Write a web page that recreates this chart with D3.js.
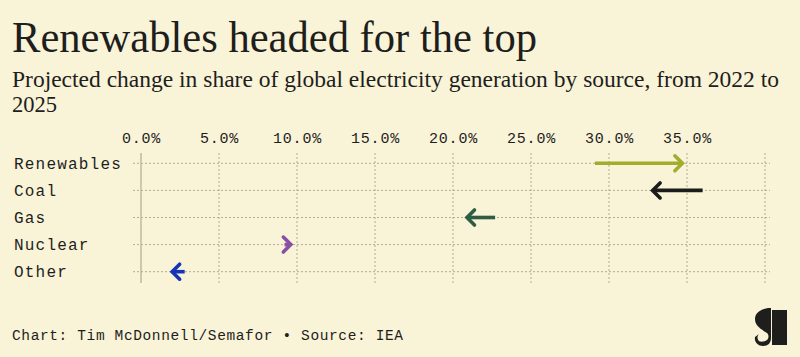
<!DOCTYPE html>
<html><head><meta charset="utf-8">
<script src="https://cdn.jsdelivr.net/npm/d3@7"></script>
<style>
html,body{margin:0;padding:0;background:#f9f3d8;}
svg{display:block;}
</style></head>
<body>
<script>
const categories = ["Renewables","Coal","Gas","Nuclear","Other"];
const share2022 = [29.1, 36.0, 22.7, 9.2, 2.8];
const share2025 = [34.8, 32.7, 20.8, 9.7, 1.9];
const colors = ["#a3ac2c","#1c1c1a","#2d5d44","#8a4ea6","#1634b5"];
const tickValues = [0,5,10,15,20,25,30,35];
const gridValues = [0,5,10,15,20,25,30,35,40];

const W = 800, H = 357;
const svg = d3.select("body").append("svg").attr("width",W).attr("height",H);
svg.append("rect").attr("width",W).attr("height",H).attr("fill","#f9f3d8");

const x = d3.scaleLinear().domain([0,40]).range([141,765]);
const y = d3.scalePoint().domain(categories).range([163.3,271.7]);

// titles
svg.append("text").attr("x",12).attr("y",52)
  .attr("font-family","Liberation Serif, serif").attr("font-size",44)
  .attr("fill","#1e1e1c").attr("textLength",525).attr("lengthAdjust","spacingAndGlyphs")
  .text("Renewables headed for the top");
svg.append("text").attr("x",12).attr("y",87)
  .attr("font-family","Liberation Serif, serif").attr("font-size",22.5)
  .attr("fill","#1e1e1c").attr("textLength",767).attr("lengthAdjust","spacingAndGlyphs")
  .text("Projected change in share of global electricity generation by source, from 2022 to");
svg.append("text").attr("x",12).attr("y",112)
  .attr("font-family","Liberation Serif, serif").attr("font-size",22.5)
  .attr("fill","#1e1e1c")
  .text("2025");

// grid
const g = svg.append("g");
g.selectAll("line.h").data(categories).join("line").attr("class","h")
  .attr("x1",133).attr("x2",770).attr("y1",d=>y(d)).attr("y2",d=>y(d))
  .attr("stroke","#b3ac95").attr("stroke-width",1).attr("stroke-dasharray","2,2");
g.selectAll("line.v").data(gridValues.filter(v=>v>0)).join("line").attr("class","v")
  .attr("x1",d=>x(d)).attr("x2",d=>x(d)).attr("y1",153).attr("y2",283)
  .attr("stroke","#b3ac95").attr("stroke-width",1).attr("stroke-dasharray","2,2");
g.append("line").attr("x1",x(0)).attr("x2",x(0)).attr("y1",153).attr("y2",283)
  .attr("stroke","#bdb8a2").attr("stroke-width",1.5);

// axis
const axis = d3.axisTop(x).tickValues(tickValues).tickSize(0).tickPadding(0)
  .tickFormat(d=>d3.format(".1%")(d/100));
const ax = svg.append("g").attr("transform","translate(0,143)").call(axis);
ax.select(".domain").remove();
ax.selectAll("text").attr("font-family","Liberation Mono, monospace").attr("font-size",15)
  .attr("letter-spacing","0.8px").attr("fill","#1e1e1c").attr("dy",0);

// row labels
svg.selectAll("text.lab").data(categories).join("text").attr("class","lab")
  .attr("x",14).attr("y",d=>y(d)+5.5)
  .attr("font-family","Liberation Mono, monospace").attr("font-size",16)
  .attr("letter-spacing","1.2px").attr("fill","#1e1e1c")
  .text(d=>d);

// arrows
const rows = categories.map((c,i)=>({c, a:share2022[i], b:share2025[i], col:colors[i]}));
const ar = svg.append("g");
rows.forEach(r=>{
  const yy = y(r.c), x0 = x(r.a), x1 = x(r.b);
  const dir = x1 > x0 ? 1 : -1;
  const tip = x1 - dir*1.5;
  ar.append("line").attr("x1",x0).attr("x2",tip).attr("y1",yy).attr("y2",yy)
    .attr("stroke",r.col).attr("stroke-width",3.6).attr("stroke-linecap","butt");
  const h = 7.5;
  ar.append("path")
    .attr("d",`M${tip-dir*h},${yy-h} L${tip},${yy} L${tip-dir*h},${yy+h}`)
    .attr("fill","none").attr("stroke",r.col).attr("stroke-width",3.6)
    .attr("stroke-linecap","round").attr("stroke-linejoin","miter");
});

// footer
svg.append("text").attr("x",12).attr("y",340)
  .attr("font-family","Liberation Mono, monospace").attr("font-size",14.5)
  .attr("fill","#1e1e1c").attr("textLength",391).attr("lengthAdjust","spacing")
  .text("Chart: Tim McDonnell/Semafor • Source: IEA");

// logo
const lg = svg.append("g").attr("transform","translate(755,308)").attr("fill","#1e1e1c");
lg.append("rect").attr("x",17).attr("y",2).attr("width",15).attr("height",35);
lg.append("path").attr("d","M16,0 C6,0 0,5 0,11 C0,18 6,21 12,25 C14,27 14,30 12,32 C9,34 5,34 4,33 C2,31 2,28 4,26 L0,29 C-1,34 3,38 8,38 C13,38 16,35 16,30 Z");
lg.append("path").attr("d","M16,0 L16,10 C11,9 8,8 6,5 C8,2 12,0 16,0 Z");
</script>
</body></html>
